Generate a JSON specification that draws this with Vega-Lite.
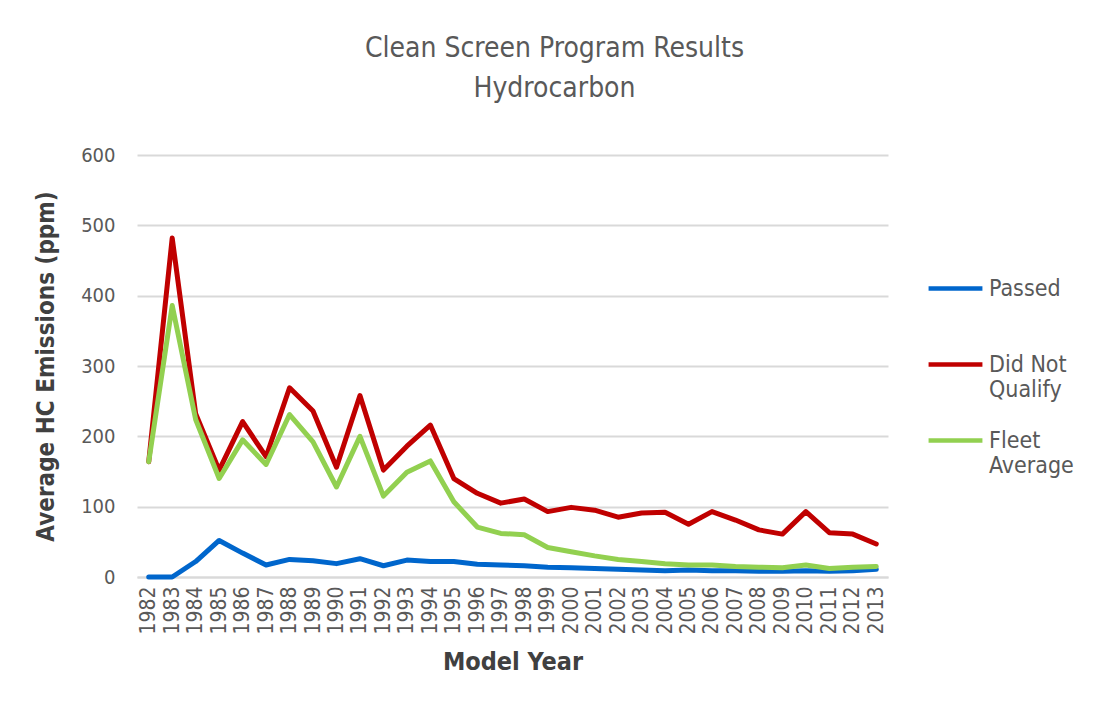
{
  "$schema": "https://vega.github.io/schema/vega-lite/v6.json",
  "autosize": {"type": "none"},
  "width": 751,
  "height": 422,
  "padding": {"left": 137, "top": 155, "right": 206, "bottom": 142},
  "background": "white",
  "title": {
    "text": "Clean Screen Program Results",
    "subtitle": "Hydrocarbon",
    "anchor": "middle",
    "dx": 42,
    "offset": 42,
    "font": "DejaVu Sans Condensed, DejaVu Sans",
    "subtitleFont": "DejaVu Sans Condensed, DejaVu Sans",
    "fontSize": 28,
    "subtitleFontSize": 28,
    "fontWeight": "normal",
    "color": "#595959",
    "subtitleColor": "#595959",
    "subtitlePadding": 12
  },
  "config": {
    "view": {"stroke": null},
    "font": "DejaVu Sans Condensed, DejaVu Sans"
  },
  "data": {
    "values": [
      {"year": "1982", "series": "Passed", "value": 0},
      {"year": "1983", "series": "Passed", "value": 0},
      {"year": "1984", "series": "Passed", "value": 22},
      {"year": "1985", "series": "Passed", "value": 52},
      {"year": "1986", "series": "Passed", "value": 34},
      {"year": "1987", "series": "Passed", "value": 17},
      {"year": "1988", "series": "Passed", "value": 25},
      {"year": "1989", "series": "Passed", "value": 23},
      {"year": "1990", "series": "Passed", "value": 19},
      {"year": "1991", "series": "Passed", "value": 26},
      {"year": "1992", "series": "Passed", "value": 16},
      {"year": "1993", "series": "Passed", "value": 24},
      {"year": "1994", "series": "Passed", "value": 22},
      {"year": "1995", "series": "Passed", "value": 22},
      {"year": "1996", "series": "Passed", "value": 18},
      {"year": "1997", "series": "Passed", "value": 17},
      {"year": "1998", "series": "Passed", "value": 16},
      {"year": "1999", "series": "Passed", "value": 14},
      {"year": "2000", "series": "Passed", "value": 13},
      {"year": "2001", "series": "Passed", "value": 12},
      {"year": "2002", "series": "Passed", "value": 11},
      {"year": "2003", "series": "Passed", "value": 10},
      {"year": "2004", "series": "Passed", "value": 9},
      {"year": "2005", "series": "Passed", "value": 10},
      {"year": "2006", "series": "Passed", "value": 9},
      {"year": "2007", "series": "Passed", "value": 9},
      {"year": "2008", "series": "Passed", "value": 8},
      {"year": "2009", "series": "Passed", "value": 8},
      {"year": "2010", "series": "Passed", "value": 9},
      {"year": "2011", "series": "Passed", "value": 8},
      {"year": "2012", "series": "Passed", "value": 9},
      {"year": "2013", "series": "Passed", "value": 11},
      {"year": "1982", "series": "Did Not Qualify", "value": 164},
      {"year": "1983", "series": "Did Not Qualify", "value": 482},
      {"year": "1984", "series": "Did Not Qualify", "value": 232},
      {"year": "1985", "series": "Did Not Qualify", "value": 152},
      {"year": "1986", "series": "Did Not Qualify", "value": 221},
      {"year": "1987", "series": "Did Not Qualify", "value": 171},
      {"year": "1988", "series": "Did Not Qualify", "value": 269},
      {"year": "1989", "series": "Did Not Qualify", "value": 236},
      {"year": "1990", "series": "Did Not Qualify", "value": 156},
      {"year": "1991", "series": "Did Not Qualify", "value": 258},
      {"year": "1992", "series": "Did Not Qualify", "value": 152},
      {"year": "1993", "series": "Did Not Qualify", "value": 186},
      {"year": "1994", "series": "Did Not Qualify", "value": 216},
      {"year": "1995", "series": "Did Not Qualify", "value": 140},
      {"year": "1996", "series": "Did Not Qualify", "value": 119},
      {"year": "1997", "series": "Did Not Qualify", "value": 105},
      {"year": "1998", "series": "Did Not Qualify", "value": 111},
      {"year": "1999", "series": "Did Not Qualify", "value": 93},
      {"year": "2000", "series": "Did Not Qualify", "value": 99},
      {"year": "2001", "series": "Did Not Qualify", "value": 95},
      {"year": "2002", "series": "Did Not Qualify", "value": 85},
      {"year": "2003", "series": "Did Not Qualify", "value": 91},
      {"year": "2004", "series": "Did Not Qualify", "value": 92},
      {"year": "2005", "series": "Did Not Qualify", "value": 75},
      {"year": "2006", "series": "Did Not Qualify", "value": 93},
      {"year": "2007", "series": "Did Not Qualify", "value": 81},
      {"year": "2008", "series": "Did Not Qualify", "value": 67},
      {"year": "2009", "series": "Did Not Qualify", "value": 61},
      {"year": "2010", "series": "Did Not Qualify", "value": 93},
      {"year": "2011", "series": "Did Not Qualify", "value": 63},
      {"year": "2012", "series": "Did Not Qualify", "value": 61},
      {"year": "2013", "series": "Did Not Qualify", "value": 47},
      {"year": "1982", "series": "Fleet Average", "value": 164},
      {"year": "1983", "series": "Fleet Average", "value": 386},
      {"year": "1984", "series": "Fleet Average", "value": 224},
      {"year": "1985", "series": "Fleet Average", "value": 140},
      {"year": "1986", "series": "Fleet Average", "value": 195},
      {"year": "1987", "series": "Fleet Average", "value": 160},
      {"year": "1988", "series": "Fleet Average", "value": 231},
      {"year": "1989", "series": "Fleet Average", "value": 192},
      {"year": "1990", "series": "Fleet Average", "value": 128},
      {"year": "1991", "series": "Fleet Average", "value": 200},
      {"year": "1992", "series": "Fleet Average", "value": 115},
      {"year": "1993", "series": "Fleet Average", "value": 149},
      {"year": "1994", "series": "Fleet Average", "value": 165},
      {"year": "1995", "series": "Fleet Average", "value": 107},
      {"year": "1996", "series": "Fleet Average", "value": 71},
      {"year": "1997", "series": "Fleet Average", "value": 62},
      {"year": "1998", "series": "Fleet Average", "value": 60},
      {"year": "1999", "series": "Fleet Average", "value": 42},
      {"year": "2000", "series": "Fleet Average", "value": 36},
      {"year": "2001", "series": "Fleet Average", "value": 30},
      {"year": "2002", "series": "Fleet Average", "value": 25},
      {"year": "2003", "series": "Fleet Average", "value": 22},
      {"year": "2004", "series": "Fleet Average", "value": 19},
      {"year": "2005", "series": "Fleet Average", "value": 17},
      {"year": "2006", "series": "Fleet Average", "value": 17},
      {"year": "2007", "series": "Fleet Average", "value": 15},
      {"year": "2008", "series": "Fleet Average", "value": 14},
      {"year": "2009", "series": "Fleet Average", "value": 13},
      {"year": "2010", "series": "Fleet Average", "value": 17},
      {"year": "2011", "series": "Fleet Average", "value": 12},
      {"year": "2012", "series": "Fleet Average", "value": 14},
      {"year": "2013", "series": "Fleet Average", "value": 15}
    ]
  },
  "mark": {"type": "line", "strokeWidth": 5, "strokeCap": "round", "strokeJoin": "round"},
  "encoding": {
    "x": {
      "field": "year",
      "type": "ordinal",
      "scale": {"type": "point", "padding": 0.5},
      "title": "Model Year",
      "axis": {
        "labelAngle": -90,
        "labelFontSize": 21,
        "labelColor": "#595959",
        "labelPadding": 9,
        "ticks": false,
        "domain": true,
        "domainColor": "#d9d9d9",
        "domainWidth": 2,
        "titleFontSize": 25,
        "titleFontWeight": "bold",
        "titleColor": "#404040",
        "titlePadding": 15
      }
    },
    "y": {
      "field": "value",
      "type": "quantitative",
      "scale": {"domain": [0, 600], "nice": false},
      "title": "Average HC Emissions (ppm)",
      "axis": {
        "values": [0, 100, 200, 300, 400, 500, 600],
        "labelFontSize": 20,
        "labelColor": "#595959",
        "labelPadding": 22,
        "ticks": false,
        "domain": false,
        "grid": true,
        "gridColor": "#d9d9d9",
        "gridWidth": 2,
        "titleFontSize": 24,
        "titleFontWeight": "bold",
        "titleColor": "#404040",
        "titlePadding": 22
      }
    },
    "color": {
      "field": "series",
      "type": "nominal",
      "scale": {
        "domain": ["Passed", "Did Not Qualify", "Fleet Average"],
        "range": ["#0066CC", "#C00000", "#92D050"]
      },
      "legend": {
        "title": null,
        "orient": "none",
        "legendX": 789,
        "legendY": 104,
        "symbolType": "stroke",
        "symbolSize": 2900,
        "symbolStrokeWidth": 4.5,
        "labelFontSize": 23,
        "labelColor": "#595959",
        "labelLimit": 300,
        "labelOffset": 4,
        "rowPadding": 9,
        "labelExpr": "datum.label == 'Did Not Qualify' ? ['Did Not', 'Qualify'] : datum.label == 'Fleet Average' ? ['Fleet', 'Average'] : [datum.label, ' ']"
      }
    }
  }
}
